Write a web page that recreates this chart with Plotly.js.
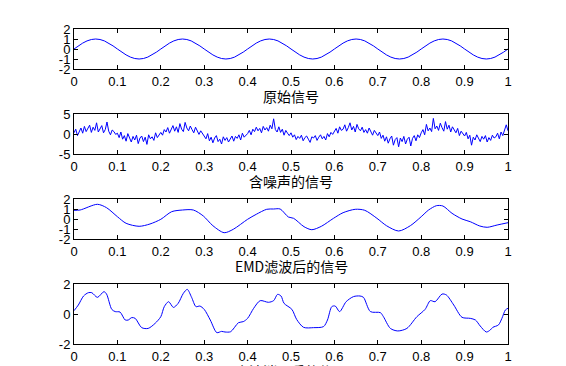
<!DOCTYPE html>
<html><head><meta charset="utf-8">
<script src="https://cdn.plot.ly/plotly-3.0.1.min.js"></script>
<style>html,body{margin:0;padding:0;background:#fff;}#c{width:566px;height:366px;}</style>
</head><body><div id="c"></div>
<script>
// Original signal: samples at t = 0, 0.01, ..., 1
const origT = [0,0.01,0.02,0.03,0.04,0.05,0.06,0.07,0.08,0.09,0.1,0.11,0.12,0.13,0.14,0.15,0.16,0.17,0.18,0.19,0.2,0.21,0.22,0.23,0.24,0.25,0.26,0.27,0.28,0.29,0.3,0.31,0.32,0.33,0.34,0.35,0.36,0.37,0.38,0.39,0.4,0.41,0.42,0.43,0.44,0.45,0.46,0.47,0.48,0.49,0.5,0.51,0.52,0.53,0.54,0.55,0.56,0.57,0.58,0.59,0.6,0.61,0.62,0.63,0.64,0.65,0.66,0.67,0.68,0.69,0.7,0.71,0.72,0.73,0.74,0.75,0.76,0.77,0.78,0.79,0.8,0.81,0.82,0.83,0.84,0.85,0.86,0.87,0.88,0.89,0.9,0.91,0.92,0.93,0.94,0.95,0.96,0.97,0.98,0.99,1];
const origY = [0,0.31,0.59,0.81,0.95,1,0.95,0.81,0.59,0.31,0,-0.31,-0.59,-0.81,-0.95,-1,-0.95,-0.81,-0.59,-0.31,
0,0.31,0.59,0.81,0.95,1,0.95,0.81,0.59,0.31,0,-0.31,-0.59,-0.81,-0.95,-1,-0.95,-0.81,-0.59,-0.31,
0,0.31,0.59,0.81,0.95,1,0.95,0.81,0.59,0.31,0,-0.31,-0.59,-0.81,-0.95,-1,-0.95,-0.81,-0.59,-0.31,
0,0.31,0.59,0.81,0.95,1,0.95,0.81,0.59,0.31,0,-0.31,-0.59,-0.81,-0.95,-1,-0.95,-0.81,-0.59,-0.31,
0,0.31,0.59,0.81,0.95,1,0.95,0.81,0.59,0.31,0,-0.31,-0.59,-0.81,-0.95,-1,-0.95,-0.81,-0.59,-0.31,0];

// Noisy signal: 251 samples evenly spaced on [0, 1]
const noisyY = [
0.3,1.2,-0.4,0.8,1.5,0.2,1.9,0.6,1.3,2.2,0.4,1.7,0.9,2.8,0.5,1.4,2.1,0.3,1.1,3.0,0.7,-0.2,1.0,0.6,-0.1,
0.2,-0.9,0.5,-1.3,-0.4,-1.8,0.1,-1.1,-2.0,-0.6,-1.5,-0.3,-2.4,-1.0,-0.5,-1.9,-0.8,-2.6,-0.2,-1.2,-0.7,-1.6,0.3,-0.9,-0.2,
0.4,-0.3,1.1,0.5,1.6,0.2,1.3,2.1,0.7,1.8,0.4,2.6,1.2,0.6,2.9,1.5,0.8,2.0,1.1,0.3,1.7,0.9,-0.1,0.8,0.2,
-0.3,-1.2,0.1,-1.7,-0.8,-2.2,-1.0,-0.4,-1.9,-1.3,-2.5,-0.7,-1.6,-0.9,-2.0,-1.4,-0.5,-1.8,-0.6,-1.1,-0.2,-1.5,0.2,-0.8,-0.3,
0.1,0.9,-0.2,1.2,0.6,1.7,0.8,1.4,0.3,1.9,1.0,1.6,0.7,2.2,1.3,3.8,1.1,0.5,1.8,0.4,1.2,-0.3,0.9,0.2,-0.4,
0.3,-0.8,-0.2,-1.4,-0.6,-1.1,-0.3,-1.7,-0.9,-0.5,-1.3,-2.1,-0.7,-1.0,-0.4,-1.6,-0.8,-0.2,-1.2,-0.6,-1.5,0.1,-0.7,0.4,-0.1,
0.6,1.4,0.2,1.8,0.9,1.2,2.3,0.7,1.6,2.8,1.0,1.9,0.5,2.4,1.3,0.8,1.7,0.4,1.1,0.2,1.5,0.6,-0.3,0.9,0.1,
-0.4,0.5,-1.1,-0.3,-1.8,-0.7,-2.3,-1.2,-0.5,-2.8,-1.4,-0.9,-3.2,-1.0,-1.9,-0.6,-2.5,-1.3,-0.8,-3.0,-1.1,-0.4,-1.7,-0.2,-0.9,
0.3,1.1,-0.2,2.4,0.8,1.5,0.6,3.9,1.3,2.0,0.9,2.7,1.6,0.7,3.1,1.2,2.2,0.5,1.8,1.0,0.3,1.4,-0.4,0.7,0.2,
-0.5,0.4,-1.2,-0.3,-2.8,-0.8,-1.5,-0.2,-1.1,-1.9,-0.6,-1.3,-0.4,-2.0,-0.9,-1.6,-0.3,-1.0,-0.7,0.2,-1.2,0.5,-0.4,1.2,2.3,
0.8];

// EMD-filtered signal
const emdT = [0,0.014,0.054,0.075,0.1,0.12,0.15,0.175,0.2,0.225,0.25,0.275,0.298,0.32,0.346,0.367,0.4,0.42,0.444,0.46,0.475,0.494,0.506,0.53,0.548,0.57,0.598,0.62,0.648,0.67,0.698,0.72,0.748,0.775,0.8,0.817,0.835,0.85,0.871,0.894,0.913,0.935,0.952,0.975,1];
const emdY = [0.87,0.9,1.47,1.13,0.23,-0.43,-0.73,-0.5,-0.03,0.73,0.9,0.9,0.3,-0.67,-1.37,-1.03,-0.03,0.47,0.97,1.0,1.0,0.2,0.07,-0.77,-1.07,-0.73,0.07,0.63,0.97,0.87,0.07,-0.67,-1.2,-0.67,0.23,0.9,1.33,1.3,0.57,0,-0.27,-0.7,-0.83,-0.6,-0.37];

// Wavelet-denoised signal
const wavT = [0,0.01,0.022,0.033,0.041,0.054,0.069,0.075,0.087,0.095,0.106,0.118,0.125,0.133,0.141,0.156,0.171,0.187,0.2,0.208,0.218,0.229,0.24,0.252,0.261,0.271,0.281,0.29,0.3,0.314,0.329,0.34,0.348,0.361,0.379,0.39,0.4,0.414,0.429,0.448,0.46,0.469,0.477,0.484,0.502,0.513,0.529,0.552,0.575,0.584,0.594,0.602,0.612,0.627,0.644,0.659,0.667,0.683,0.706,0.713,0.729,0.746,0.767,0.79,0.809,0.821,0.832,0.848,0.858,0.875,0.894,0.913,0.925,0.936,0.95,0.959,0.965,0.978,0.986,0.994,1];
const wavY = [0.22,0.6,1.2,1.42,1.42,1.11,1.49,1.33,0.31,0.16,0.13,-0.4,-0.4,-0.24,-0.29,-0.91,-0.96,-0.62,-0.18,0.49,0.82,0.44,0.71,1.38,1.64,1.11,0.49,0.53,0.31,-0.4,-1.24,-1.16,-1.2,-1.18,-0.58,-0.51,-0.29,0.38,0.89,0.78,0.89,1.31,1.2,0.71,0.31,-0.36,-0.89,-0.91,-0.84,-0.4,0.49,0.53,0.16,0.82,1.16,1.2,1.11,0.16,0.09,-0.18,-0.96,-1.13,-0.96,-0.18,0.31,0.89,0.82,1.33,1.27,0.6,-0.22,-0.29,-0.4,-0.8,-1.2,-1.07,-0.89,-0.73,-0.29,0.27,0.38];

const xTicks = [0,0.1,0.2,0.3,0.4,0.5,0.6,0.7,0.8,0.9,1];
const xTickText = ['0','0.1','0.2','0.3','0.4','0.5','0.6','0.7','0.8','0.9','1'];
const yTicksA = [-2,-1,0,1,2];
const yTextA = ['-2','-1','0','1','2'];
const yTicksB = [-5,0,5];
const yTextB = ['-5','0','5'];
const yTicksC = [-2,0,2];
const yTextC = ['-2','0','2'];
const titles = ['原始信号','含噪声的信号','EMD滤波后的信号','小波消噪后的信号'];

const noisyT = noisyY.map((_, i) => i / (noisyY.length - 1));

const line = {color:'#0000ff', width:1};
const traces = [
  {x:origT, y:origY, xaxis:'x', yaxis:'y', mode:'lines', line:line, type:'scatter'},
  {x:noisyT, y:noisyY, xaxis:'x2', yaxis:'y2', mode:'lines', line:line, type:'scatter'},
  {x:emdT, y:emdY, xaxis:'x3', yaxis:'y3', mode:'lines', line:Object.assign({shape:'spline', smoothing:0.8}, line), type:'scatter'},
  {x:wavT, y:wavY, xaxis:'x4', yaxis:'y4', mode:'lines', line:Object.assign({shape:'spline', smoothing:0.8}, line), type:'scatter'}
];

const tickFont = {family:'Liberation Sans, Arial, sans-serif', size:13, color:'#000'};
const titleFont = {family:'Noto Sans CJK SC, Liberation Sans, sans-serif', size:14, color:'#000'};
const H = 366;
const boxes = [[29,69],[114,154],[199,239],[284,344]];
const yDomains = boxes.map(([a,b]) => [1 - b/H, 1 - a/H]);

function xa(i){
  return {domain:[0,1], range:[0,1], anchor: i===0?'y':'y'+(i+1),
    tickvals:xTicks, ticktext:xTickText, ticks:'inside', ticklen:4, tickcolor:'#000',
    showline:true, linecolor:'#000', linewidth:1, mirror:'ticks', showgrid:false, zeroline:false,
    tickfont:tickFont, automargin:false, fixedrange:true};
}
function ya(i, vals, txt, rng){
  return {domain:yDomains[i], range:rng, anchor: i===0?'x':'x'+(i+1),
    tickvals:vals, ticktext:txt, ticks:'inside', ticklen:4, tickcolor:'#000',
    showline:true, linecolor:'#000', linewidth:1, mirror:'ticks', showgrid:false, zeroline:false,
    tickfont:tickFont, automargin:false, fixedrange:true};
}

const annotations = titles.map((t, i) => ({
  text:t, xref:'paper', yref:'paper', x:0.5, y:1 - (boxes[i][1] + 27)/H,
  xanchor:'center', yanchor:'middle', showarrow:false, font:titleFont
}));

const layout = {
  width:566, height:366, margin:{l:74, r:58, t:0, b:0, pad:0},
  paper_bgcolor:'#fff', plot_bgcolor:'#fff', showlegend:false,
  xaxis:xa(0), xaxis2:xa(1), xaxis3:xa(2), xaxis4:xa(3),
  yaxis:ya(0, yTicksA, yTextA, [-2,2]),
  yaxis2:ya(1, yTicksB, yTextB, [-5,5]),
  yaxis3:ya(2, yTicksA, yTextA, [-2,2]),
  yaxis4:ya(3, yTicksC, yTextC, [-2,2]),
  annotations:annotations
};

Plotly.newPlot('c', traces, layout, {displayModeBar:false, staticPlot:true});
</script>
</body></html>
